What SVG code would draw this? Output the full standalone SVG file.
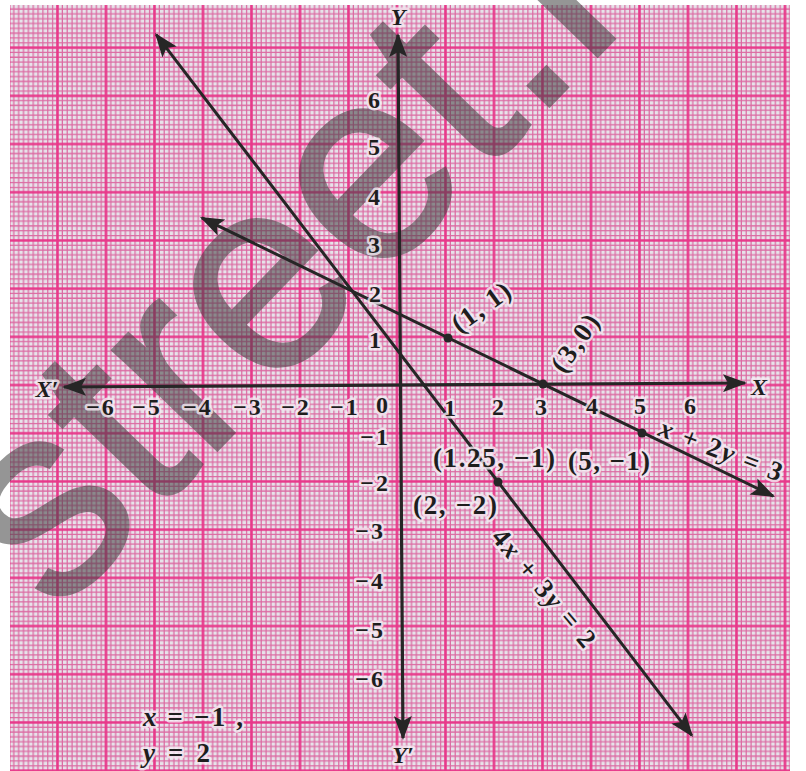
<svg xmlns="http://www.w3.org/2000/svg" width="806" height="771" viewBox="0 0 806 771">
<style>
.ink{stroke:#262626;fill:none;stroke-linecap:butt}
.axis{stroke-width:3.2}
.gl{stroke-width:3}
.dot{fill:#262626}
.t{font-family:"Liberation Serif","Times New Roman",serif;font-weight:bold;fill:#1e1e1e;stroke:#f6f0f6;stroke-opacity:.8;stroke-width:5;stroke-linejoin:round;paint-order:stroke}
.num{font-size:24px;text-anchor:middle}
.neg{font-size:24px;letter-spacing:2px}
.lbl{font-size:27px}
.it{font-style:italic}
.mid{text-anchor:middle}
.cen{text-anchor:middle;dominant-baseline:central}
</style>
<defs>
<pattern id="grid" patternUnits="userSpaceOnUse" x="6.575" y="-3.01" width="48.5" height="48.2">
<rect width="48.5" height="48.2" fill="#e7e3ea"/>
<path d="M7.275 0V48.2M12.125 0V48.2M16.975 0V48.2M21.825 0V48.2M26.675 0V48.2M31.525 0V48.2M36.375 0V48.2M41.225 0V48.2M46.075 0V48.2M0 7.23H48.5M0 12.05H48.5M0 16.87H48.5M0 21.69H48.5M0 26.51H48.5M0 31.33H48.5M0 36.15H48.5M0 40.97H48.5M0 45.79H48.5" stroke="#dc6aa2" stroke-width="1.25" fill="none"/>
<path d="M2.425 0V48.2M0 2.41H48.5" stroke="#e8388a" stroke-width="2.6" fill="none"/>
</pattern>
<marker id="arr" viewBox="0 0 24 18" refX="22" refY="9" markerWidth="24" markerHeight="18" markerUnits="userSpaceOnUse" orient="auto-start-reverse">
<path d="M0,0 L24,9 L0,18 L5,9 Z" fill="#262626"/>
</marker>
</defs>

<rect width="806" height="771" fill="#ffffff"/>
<rect id="paper" x="10" y="5" width="780" height="766" fill="url(#grid)"/>

<g id="watermark" opacity="0.55">
<text transform="translate(56,617) rotate(-46)" font-family="Liberation Sans, Arial, sans-serif" font-size="274" fill="#404040" stroke="#404040" stroke-width="3">street.i</text>
</g>

<g id="connectors">
<line id="x-axis" class="ink axis" x1="64" y1="387" x2="745" y2="383" marker-start="url(#arr)" marker-end="url(#arr)"/>
<line id="y-axis" class="ink axis" x1="398" y1="35" x2="403" y2="738" marker-start="url(#arr)" marker-end="url(#arr)"/>
<line id="line-4x3y" class="ink gl" x1="156.2" y1="34.6" x2="691.8" y2="735.4" marker-start="url(#arr)" marker-end="url(#arr)"/>
<line id="line-x2y" class="ink gl" x1="201.8" y1="217.9" x2="773.2" y2="496.1" marker-start="url(#arr)" marker-end="url(#arr)"/>
</g>

<g id="points">
<circle class="dot" cx="448" cy="338" r="4.5"/>
<circle class="dot" cx="543" cy="384" r="4.5"/>
<circle class="dot" cx="642" cy="433" r="4.5"/>
<circle class="dot" cx="498" cy="482" r="4.5"/>
</g>

<g id="axis-labels">
<text class="t it mid" font-size="24" x="398" y="25">Y</text>
<text class="t it mid" font-size="24" x="403" y="763">Y′</text>
<text class="t it mid" font-size="24" x="47" y="397">X′</text>
<text class="t it mid" font-size="24" x="759" y="395">X</text>
</g>

<g id="x-ticks">
<text class="t neg mid" x="101" y="415">−6</text>
<text class="t neg mid" x="147" y="415">−5</text>
<text class="t neg mid" x="198" y="415">−4</text>
<text class="t neg mid" x="248" y="415">−3</text>
<text class="t neg mid" x="296" y="415">−2</text>
<text class="t neg mid" x="345" y="415">−1</text>
<text class="t num" x="382" y="413">0</text>
<text class="t num" x="450" y="416">1</text>
<text class="t num" x="498" y="415">2</text>
<text class="t num" x="541" y="415">3</text>
<text class="t num" x="592" y="414">4</text>
<text class="t num" x="640" y="414">5</text>
<text class="t num" x="690" y="414">6</text>
</g>

<g id="y-ticks">
<text class="t num" x="374" y="108">6</text>
<text class="t num" x="374" y="155">5</text>
<text class="t num" x="374" y="205">4</text>
<text class="t num" x="374" y="253">3</text>
<text class="t num" x="375" y="302">2</text>
<text class="t num" x="375" y="348">1</text>
<text class="t neg" text-anchor="end" x="390" y="445">−1</text>
<text class="t neg" text-anchor="end" x="390" y="491">−2</text>
<text class="t neg" text-anchor="end" x="385" y="539">−3</text>
<text class="t neg" text-anchor="end" x="385" y="589">−4</text>
<text class="t neg" text-anchor="end" x="385" y="638">−5</text>
<text class="t neg" text-anchor="end" x="385" y="687">−6</text>
</g>

<g id="point-labels">
<text class="t lbl cen" transform="translate(481,307) rotate(-36)" textLength="66" lengthAdjust="spacing">(1, 1)</text>
<text class="t lbl cen" transform="translate(575,343) rotate(-55)" textLength="64" lengthAdjust="spacing">(3,0)</text>
<text class="t lbl mid" x="494" y="467" textLength="122" lengthAdjust="spacing">(1.25, −1)</text>
<text class="t lbl mid" x="609" y="470" textLength="82" lengthAdjust="spacing">(5, −1)</text>
<text class="t lbl mid" x="455" y="514" textLength="84" lengthAdjust="spacing">(2, −2)</text>
</g>

<g id="equations">
<text class="t lbl cen" transform="translate(721,450) rotate(21)" textLength="130" lengthAdjust="spacing"><tspan class="it">x</tspan> + 2<tspan class="it">y</tspan> = 3</text>
<text class="t lbl cen" transform="translate(544,588) rotate(50)" textLength="146" lengthAdjust="spacing">4<tspan class="it">x</tspan> + 3<tspan class="it">y</tspan> = 2</text>
<text class="t lbl" x="143" y="726" textLength="100" lengthAdjust="spacing"><tspan class="it">x</tspan> = −1 ,</text>
<text class="t lbl" x="143" y="762" textLength="67" lengthAdjust="spacing"><tspan class="it">y</tspan> = 2</text>
</g>
</svg>
